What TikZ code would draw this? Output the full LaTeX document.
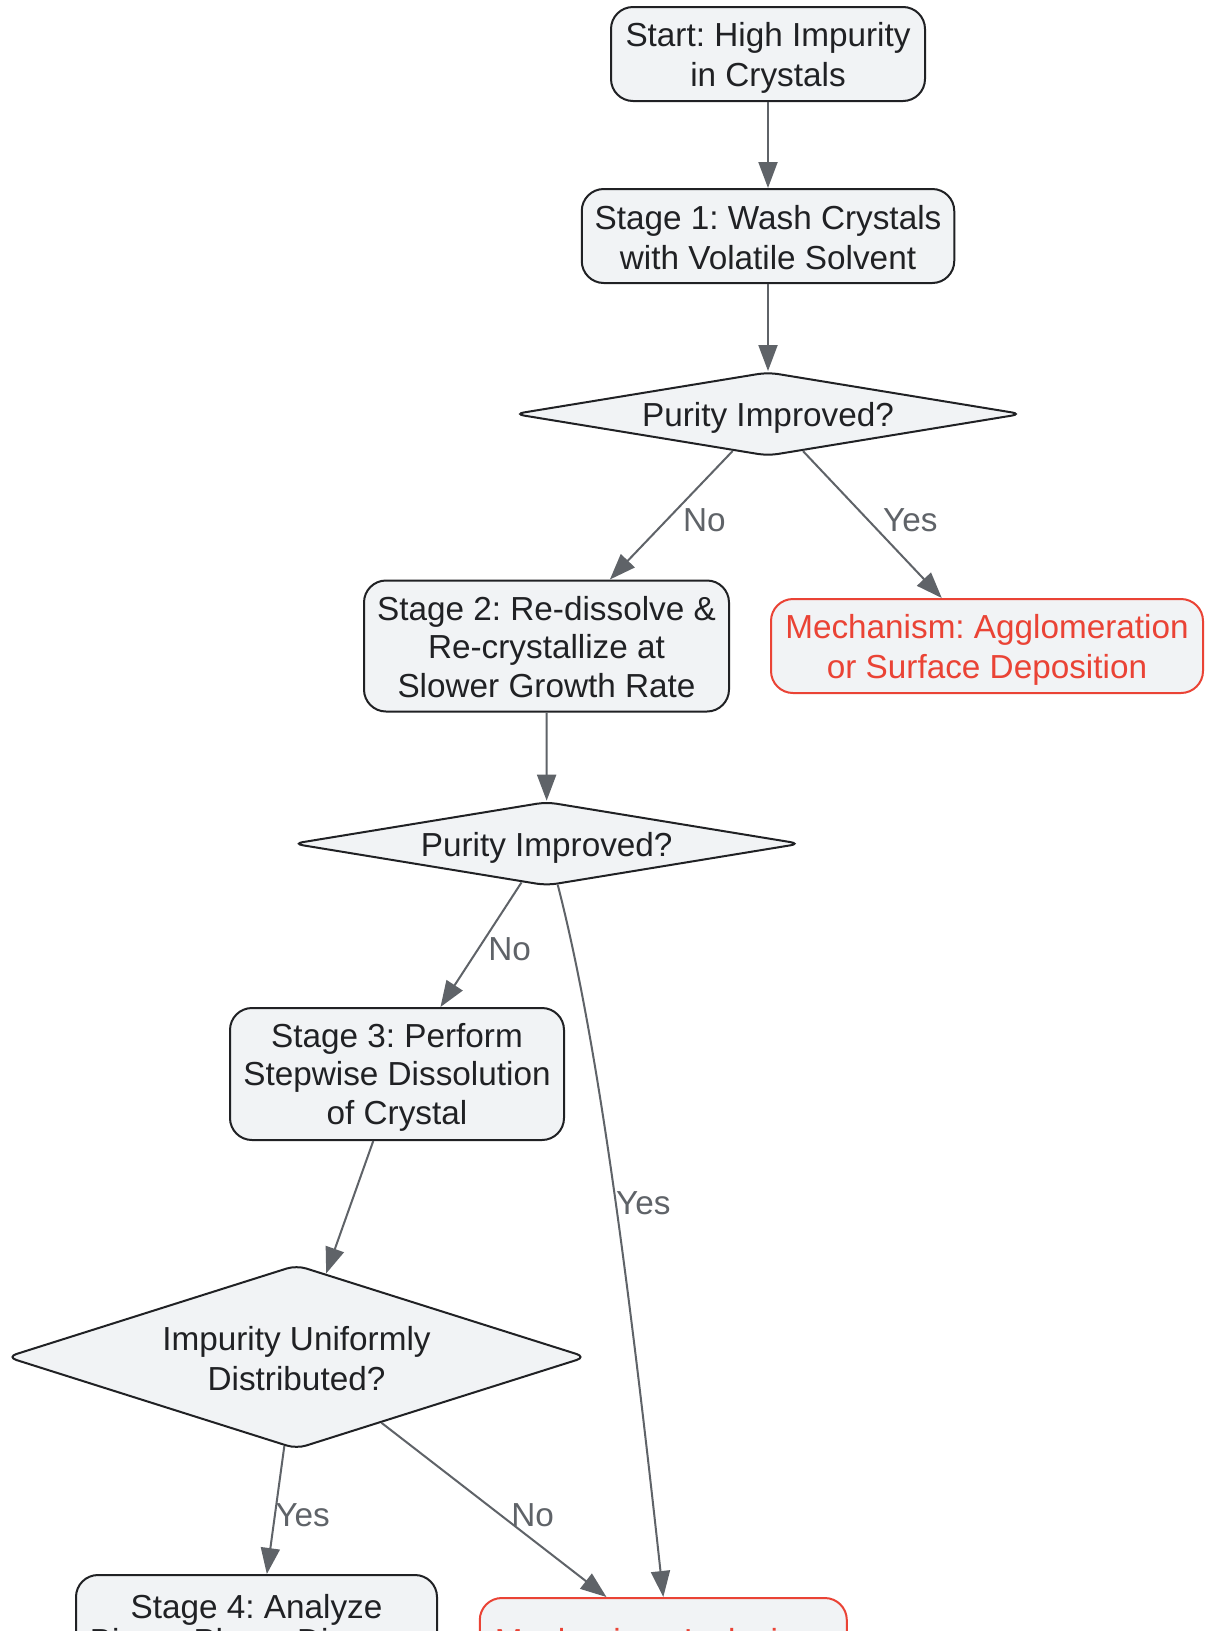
\documentclass[tikz,border=0pt]{standalone}
\usepackage{fontspec}
\setmainfont{Liberation Sans}
\frenchspacing
\usetikzlibrary{shapes.geometric,arrows.meta,calc}
\definecolor{nodefill}{HTML}{F1F3F5}
\definecolor{nodedraw}{HTML}{202124}
\definecolor{edgegray}{HTML}{5F6368}
\definecolor{redc}{HTML}{EA4335}
\newcommand\dgnodefont{\fontsize{33.3pt}{37.5pt}\selectfont}
\newcommand\dgcutfont{\fontsize{33.3pt}{34pt}\selectfont}
\newcommand\dglblfont{\fontsize{33.3pt}{37pt}\selectfont}
\newcommand\dgs{\rule[-4.9pt]{0pt}{36.5pt}}
\tikzset{
  box/.style={rectangle, rounded corners=22pt, draw=nodedraw, fill=nodefill, line width=2pt,
    text=nodedraw, align=center, inner sep=0pt, font=\dgnodefont},
  redbox/.style={box, draw=redc, text=redc},
  dia/.style={diamond, rounded corners=10pt, draw=nodedraw, fill=nodefill, line width=2pt,
    text=nodedraw, align=center, inner sep=0pt, font=\dgnodefont},
  txt/.style={inner sep=0pt, align=center, font=\dgcutfont},
  edge/.style={draw=edgegray, line width=2pt, -{Triangle[length=26pt,width=19pt]}},
  lbl/.style={text=edgegray, font=\dglblfont, inner sep=0pt}
}
\begin{document}
\begin{tikzpicture}[x=1pt,y=-1pt]
\useasboundingbox (0,0) rectangle (1213,1631);
\clip (0,0) rectangle (1213,1631);
\fill[white] (0,0) rectangle (1213,1631);

\node[box, minimum width=314pt, minimum height=94pt] (start) at (768,54) {\dgs Start: High Impurity\\in Crystals\dgs};
\node[box, minimum width=372.5pt, minimum height=94pt] (s1) at (768,236) {\dgs Stage 1: Wash Crystals\\with Volatile Solvent\dgs};
\node[dia, shape aspect=6.05, minimum width=508pt, minimum height=84pt] (d1) at (768,414) {\dgs Purity Improved?};
\node[box, minimum width=365pt, minimum height=131pt] (s2) at (546.5,646) {\dgs Stage 2: Re-dissolve \&\\Re-crystallize at\\Slower Growth Rate\dgs};
\node[redbox, minimum width=432pt, minimum height=94pt] (m1) at (987,646) {\dgs Mechanism: Agglomeration\\or Surface Deposition\dgs};
\node[dia, shape aspect=6.05, minimum width=508pt, minimum height=84pt] (d2) at (546.7,843.7) {\dgs Purity Improved?};
\node[box, minimum width=334pt, minimum height=132pt] (s3) at (397,1074) {\dgs Stage 3: Perform\\Stepwise Dissolution\\of Crystal\dgs};
\node[dia, shape aspect=3.15, minimum width=580pt, minimum height=184pt] (d3) at (296.5,1357) {\dgs Impurity Uniformly\\Distributed?\dgs};
\node[box, anchor=north, minimum width=361pt, minimum height=150pt] (s4) at (256.5,1574) {};
\node[txt, text=nodedraw, anchor=north] (s4t) at (256.5,1594) {Stage 4: Analyze\\Binary Phase Diagram};
\node[redbox, anchor=north, minimum width=367pt, minimum height=150pt] (m2) at (663.3,1597) {};
\node[txt, text=redc, anchor=north] (m2t) at (663.3,1628) {Mechanism: Inclusions};

\draw[edge] (start) -- (s1);
\draw[edge] (s1) -- (d1);
\draw[edge] (d1) -- (s2);
\draw[edge] (d1) -- (m1);
\draw[edge] (s2) -- (d2);
\draw[edge] (d2) -- (s3);
\draw[edge] ($(d2.south)+(11,-2)$) .. controls (590,1010) and (620,1200) .. (m2.north);
\draw[edge] (s3) -- (d3);
\draw[edge] (d3) -- (s4);
\draw[edge] (d3) -- ($(m2.north west)!0.346!(m2.north east)$);

\node[lbl] (l1) at (704.3,520.2) {No};
\node[lbl] (l2) at (910.3,520.2) {Yes};
\node[lbl] (l3) at (509.7,948.8) {No};
\node[lbl] (l4) at (643.4,1203.6) {Yes};
\node[lbl] (l5) at (302.7,1514.7) {Yes};
\node[lbl] (l6) at (532.6,1514.7) {No};
\end{tikzpicture}
\end{document}
